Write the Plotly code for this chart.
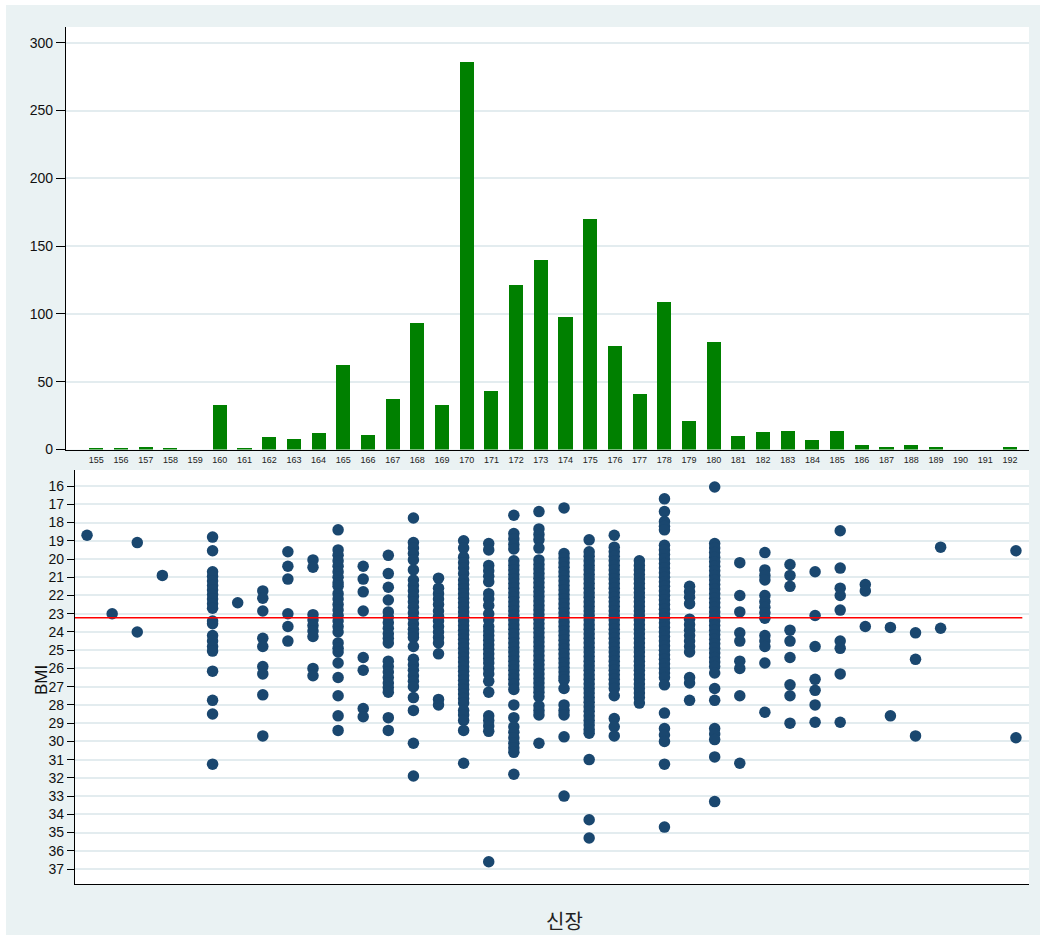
import plotly.graph_objects as go

# ---- height frequency (top panel) ----
bar_heights = [155, 156, 157, 158, 159, 160, 161, 162, 163, 164, 165, 166, 167, 168, 169,
               170, 171, 172, 173, 174, 175, 176, 177, 178, 179, 180, 181, 182, 183, 184,
               185, 186, 187, 188, 189, 190, 191, 192]
bar_counts = [1, 1, 2, 1, 0, 33, 1, 9, 8, 12, 62, 11, 37, 93, 33,
              286, 43, 121, 140, 98, 170, 76, 41, 109, 21, 79, 10, 13, 14, 7,
              14, 3, 2, 3, 2, 0, 0, 2]
count_ticks = [0, 50, 100, 150, 200, 250, 300]

# ---- BMI by height (bottom panel) ----
bmi_155 = [18.7]
bmi_156 = [23.0]
bmi_157 = [19.1, 24.0]
bmi_158 = [20.9]
bmi_160 = [18.8, 19.55, 20.7, 20.95, 21.2, 21.45, 21.7, 21.95, 22.2, 22.45, 22.7, 23.4, 23.55,
           24.2, 24.5, 24.8, 25.05, 26.15, 27.75, 28.5, 31.25]
bmi_161 = [22.4]
bmi_162 = [21.75, 22.15, 22.85, 24.35, 24.8, 25.9, 26.3, 27.45, 29.7]
bmi_163 = [19.6, 20.4, 21.1, 23.0, 23.7, 24.5]
bmi_164 = [20.05, 20.45, 23.05, 23.35, 23.65, 23.95, 24.25, 26.0, 26.4]
bmi_165 = [18.4, 19.5, 19.8, 20.1, 20.4, 20.7, 21.0, 21.3, 21.5, 21.9, 22.2, 22.5, 22.8, 23.1,
           23.4, 23.7, 24.0, 24.6, 24.9, 25.1, 25.7, 26.5, 27.5, 28.6, 29.4]
bmi_166 = [20.4, 21.1, 21.8, 22.85, 25.4, 26.1, 28.2, 28.65]
bmi_167 = [19.8, 20.8, 21.55, 22.25, 22.9, 23.2, 23.5, 23.8, 24.1, 24.35, 24.6, 25.6, 25.9,
           26.2, 26.5, 26.8, 27.05, 27.3, 28.7, 29.4]
bmi_168 = [17.75, 19.1, 19.4, 19.7, 20.05, 20.6, 21.15, 21.45, 21.75, 22.05, 22.35, 22.65,
           22.95, 23.25, 23.55, 23.85, 24.1, 24.3, 24.8, 25.5, 25.8, 26.1, 26.4, 26.7, 27.0,
           27.6, 28.3, 30.1, 31.9]
bmi_169 = [21.05, 21.6, 21.9, 22.2, 22.5, 22.85, 23.15, 23.4, 23.7, 24.0, 24.3, 24.6, 25.2,
           27.7, 28.0]
bmi_170 = [19.0, 19.4, 19.9, 20.2, 20.5, 20.8, 21.15, 21.4, 21.65, 21.9, 22.15, 22.4, 22.65,
           22.9, 23.15, 23.4, 23.65, 23.9, 24.15, 24.4, 24.65, 24.9, 25.15, 25.4, 25.65, 25.9,
           26.15, 26.4, 26.65, 26.9, 27.15, 27.4, 27.65, 27.9, 28.3, 28.55, 28.85, 29.4, 31.2]
bmi_171 = [19.15, 19.5, 20.35, 20.65, 20.95, 21.25, 21.9, 22.2, 22.55, 23.0, 23.35, 23.7,
           23.95, 24.2, 24.45, 24.7, 24.95, 25.2, 25.45, 25.7, 26.0, 26.3, 26.7, 27.3, 28.6,
           28.85, 29.15, 29.45, 36.6]
bmi_172 = [17.6, 18.6, 18.9, 19.2, 19.45, 20.1, 20.35, 20.6, 20.85, 21.1, 21.35, 21.6, 21.85,
           22.1, 22.35, 22.6, 22.85, 23.1, 23.35, 23.6, 23.85, 24.1, 24.35, 24.6, 24.85, 25.1,
           25.35, 25.6, 25.85, 26.1, 26.35, 26.6, 26.85, 27.15, 28.0, 28.7, 29.2, 29.5, 29.8,
           30.1, 30.35, 30.6, 31.8]
bmi_173 = [17.4, 18.35, 18.65, 18.95, 19.4, 20.05, 20.3, 20.55, 20.8, 21.05, 21.3, 21.55, 21.8,
           22.05, 22.3, 22.55, 22.8, 23.05, 23.3, 23.55, 23.8, 24.05, 24.3, 24.55, 24.8, 25.05,
           25.3, 25.55, 25.8, 26.05, 26.3, 26.55, 26.8, 27.05, 27.3, 27.55, 28.05, 28.3, 28.55,
           30.1]
bmi_174 = [17.2, 19.7, 19.95, 20.2, 20.45, 20.7, 20.95, 21.2, 21.45, 21.7, 21.95, 22.2, 22.45,
           22.7, 22.95, 23.2, 23.45, 23.7, 23.95, 24.2, 24.45, 24.7, 24.95, 25.2, 25.45, 25.7,
           25.95, 26.2, 26.45, 26.65, 27.1, 28.0, 28.3, 28.55, 29.75, 33.0]
bmi_175 = [18.95, 19.6, 19.85, 20.1, 20.35, 20.6, 20.85, 21.1, 21.35, 21.6, 21.85, 22.1, 22.35,
           22.6, 22.85, 23.1, 23.35, 23.6, 23.85, 24.1, 24.35, 24.6, 24.85, 25.1, 25.35, 25.6,
           25.85, 26.1, 26.35, 26.6, 26.85, 27.1, 27.35, 27.6, 27.85, 28.1, 28.35, 28.6, 28.85,
           29.1, 29.35, 29.55, 31.0, 34.3, 35.3]
bmi_176 = [18.7, 19.35, 19.6, 19.85, 20.1, 20.35, 20.6, 20.85, 21.1, 21.35, 21.6, 21.85, 22.1,
           22.35, 22.6, 22.85, 23.1, 23.35, 23.6, 23.85, 24.1, 24.35, 24.6, 24.85, 25.1, 25.35,
           25.6, 25.85, 26.1, 26.35, 26.6, 26.85, 27.1, 27.5, 28.75, 29.2, 29.7]
bmi_177 = [20.1, 20.35, 20.6, 20.85, 21.1, 21.35, 21.6, 21.85, 22.1, 22.35, 22.6, 22.85, 23.1,
           23.35, 23.6, 23.85, 24.1, 24.35, 24.6, 24.85, 25.1, 25.35, 25.6, 25.85, 26.1, 26.35,
           26.6, 26.85, 27.1, 27.35, 27.6, 27.9]
bmi_178 = [16.7, 17.4, 17.95, 18.2, 18.4, 19.25, 19.5, 19.75, 20.0, 20.25, 20.5, 20.75, 21.0,
           21.25, 21.5, 21.75, 22.0, 22.25, 22.5, 22.75, 23.0, 23.25, 23.5, 23.75, 24.0, 24.25,
           24.5, 24.75, 25.0, 25.25, 25.5, 25.75, 26.0, 26.25, 26.5, 26.9, 28.45, 29.3, 29.65,
           30.0, 31.25, 34.7]
bmi_179 = [21.5, 21.8, 22.1, 22.45, 23.3, 23.6, 23.9, 24.2, 24.5, 24.8, 25.1, 26.5, 26.8, 27.75]
bmi_180 = [16.05, 19.15, 19.4, 19.65, 19.9, 20.15, 20.4, 20.65, 20.9, 21.15, 21.4, 21.65, 21.9,
           22.15, 22.4, 22.65, 22.9, 23.15, 23.4, 23.65, 23.9, 24.15, 24.4, 24.65, 24.9, 25.15,
           25.4, 25.65, 25.9, 26.25, 27.1, 27.75, 29.3, 29.6, 29.9, 30.85, 33.3]
bmi_181 = [20.2, 22.0, 22.9, 24.05, 24.5, 25.6, 26.0, 27.5, 31.2]
bmi_182 = [19.65, 20.6, 20.9, 21.15, 22.0, 22.35, 22.65, 22.95, 23.25, 24.2, 24.5, 24.8, 25.7,
           28.4]
bmi_183 = [20.3, 20.9, 21.5, 23.9, 24.5, 25.4, 26.9, 27.5, 29.0]
bmi_184 = [20.7, 23.1, 24.8, 26.6, 27.2, 28.0, 28.95]
bmi_185 = [18.45, 20.5, 21.6, 22.0, 22.8, 24.5, 24.9, 26.3, 28.95]
bmi_186 = [21.4, 21.75, 23.7]
bmi_187 = [23.75, 28.6]
bmi_188 = [24.05, 25.5, 29.7]
bmi_189 = [19.35, 23.8]
bmi_192 = [19.55, 29.8]

scatter_heights = [155, 156, 157, 158, 160, 161, 162, 163, 164, 165, 166, 167, 168, 169, 170,
                   171, 172, 173, 174, 175, 176, 177, 178, 179, 180, 181, 182, 183, 184, 185,
                   186, 187, 188, 189, 192]
scatter_bmi = [bmi_155, bmi_156, bmi_157, bmi_158, bmi_160, bmi_161, bmi_162, bmi_163, bmi_164,
               bmi_165, bmi_166, bmi_167, bmi_168, bmi_169, bmi_170, bmi_171, bmi_172, bmi_173,
               bmi_174, bmi_175, bmi_176, bmi_177, bmi_178, bmi_179, bmi_180, bmi_181, bmi_182,
               bmi_183, bmi_184, bmi_185, bmi_186, bmi_187, bmi_188, bmi_189, bmi_192]
bmi_ticks = list(range(16, 38))
mean_bmi = 23.22

# ---- styling ----
W, H = 1046, 935
BG = "#eaf2f3"
GRID = "#e3ecef"
NAVY = "#1a476f"
GREEN = "#008000"
TICK_FONT = "Liberation Sans Narrow, Liberation Sans, Arial, sans-serif"

xs, ys = [], []
for h, vals in zip(scatter_heights, scatter_bmi):
    xs.extend([h] * len(vals))
    ys.extend(vals)

fig = go.Figure()

fig.add_trace(go.Bar(
    x=bar_heights, y=bar_counts, width=0.57,
    marker=dict(color=GREEN, line=dict(width=0)),
    xaxis="x", yaxis="y", showlegend=False,
))

fig.add_trace(go.Scatter(
    x=xs, y=ys, mode="markers",
    marker=dict(color=NAVY, size=11.5, line=dict(width=0)),
    xaxis="x2", yaxis="y2", showlegend=False,
))


def px_x(p):
    return p / W


def px_y(p):
    return 1 - p / H


fig.update_layout(
    width=W, height=H,
    margin=dict(l=0, r=0, t=0, b=0),
    paper_bgcolor=BG,
    plot_bgcolor="white",
    bargap=0,
    xaxis=dict(
        domain=[px_x(66), px_x(1029)], anchor="y",
        range=[153.77, 192.77],
        tickmode="array", tickvals=bar_heights, ticktext=[str(h) for h in bar_heights],
        ticks="outside", ticklen=2, tickcolor="rgba(0,0,0,0)",
        tickfont=dict(family=TICK_FONT, size=9, color="#222"),
        showgrid=False, zeroline=False,
        showline=True, linecolor="black", linewidth=1.3,
        automargin=False,
    ),
    yaxis=dict(
        domain=[px_y(449.5), px_y(27)], anchor="x",
        range=[0, 311.6],
        tickmode="array", tickvals=count_ticks,
        ticks="outside", ticklen=9, tickcolor="black", tickwidth=1,
        tickfont=dict(family=TICK_FONT, size=14, color="#111"),
        showgrid=True, gridcolor=GRID, gridwidth=2,
        zeroline=False,
        showline=True, linecolor="black", linewidth=1.3,
        automargin=False,
    ),
    xaxis2=dict(
        domain=[px_x(75), px_x(1029)], anchor="y2",
        range=[154.52, 192.52],
        showticklabels=False, ticks="",
        showgrid=False, zeroline=False,
        showline=True, linecolor="black", linewidth=1.3,
        automargin=False,
    ),
    yaxis2=dict(
        domain=[px_y(884), px_y(470)], anchor="x2",
        range=[37.82, 15.12],
        tickmode="array", tickvals=bmi_ticks,
        ticks="outside", ticklen=7, tickcolor="black", tickwidth=1,
        tickfont=dict(family=TICK_FONT, size=14, color="#111"),
        showgrid=True, gridcolor=GRID, gridwidth=2,
        zeroline=False,
        showline=True, linecolor="black", linewidth=1.3,
        automargin=False,
    ),
    shapes=[
        # white page strips around the graph region
        dict(type="rect", xref="paper", yref="paper", x0=0, x1=px_x(6), y0=0, y1=1,
             fillcolor="white", line=dict(width=0), layer="below"),
        dict(type="rect", xref="paper", yref="paper", x0=px_x(1040), x1=1, y0=0, y1=1,
             fillcolor="white", line=dict(width=0), layer="below"),
        dict(type="rect", xref="paper", yref="paper", x0=0, x1=1, y0=px_y(5), y1=1,
             fillcolor="white", line=dict(width=0), layer="below"),
        # mean BMI reference line
        dict(type="line", xref="x2 domain", yref="y2", x0=0, x1=0.993,
             y0=mean_bmi, y1=mean_bmi, line=dict(color="#ff0000", width=1.3), layer="above"),
    ],
    annotations=[
        dict(text="BMI", xref="paper", yref="paper", x=px_x(41), y=px_y(680),
             textangle=-90, showarrow=False, xanchor="center", yanchor="middle",
             font=dict(family="Liberation Sans, Arial, sans-serif", size=17, color="#111")),
        dict(text="신장", xref="paper", yref="paper", x=px_x(564), y=px_y(920),
             showarrow=False, xanchor="center", yanchor="middle",
             font=dict(family="Noto Sans CJK KR, sans-serif", size=20, color="#222")),
    ],
)

fig.write_html("out.html")
